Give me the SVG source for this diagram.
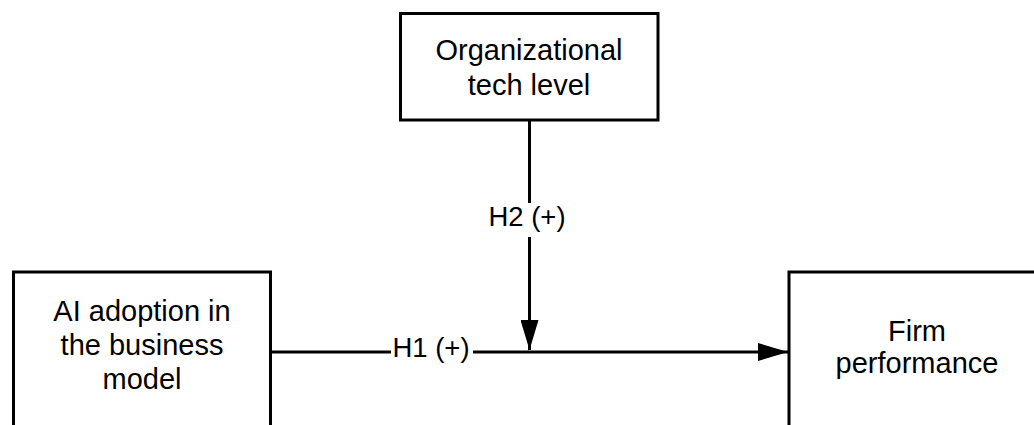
<svg xmlns="http://www.w3.org/2000/svg" width="1034" height="425" viewBox="0 0 1034 425">
<style>
.box{fill:#fff;stroke:#000;stroke-width:3}
.t{font-family:"Liberation Sans",Arial,sans-serif;font-size:29px;fill:#000;text-anchor:middle}
.lbl{font-family:"Liberation Sans",Arial,sans-serif;font-size:27.5px;fill:#000;text-anchor:middle}
.ln{stroke:#000;stroke-width:3;fill:none}
</style>
<defs>
<marker id="ah" viewBox="0 0 30 18" refX="30" refY="9" markerWidth="30" markerHeight="18" markerUnits="userSpaceOnUse" orient="auto">
<path d="M0,0 L30,9 L0,18 Z" fill="#000"/>
</marker>
</defs>
<rect width="1034" height="425" fill="#fff"/>
<g id="connectors">
<path class="ln" d="M270,352 H391"/>
<path class="ln" d="M473,352 H788" marker-end="url(#ah)"/>
<path class="ln" d="M529.5,120 V203"/>
<path class="ln" d="M529.5,237 V350" marker-end="url(#ah)"/>
<text class="lbl" x="527" y="226">H2 (+)</text>
<text class="lbl" x="431" y="357">H1 (+)</text>
</g>
<g id="org-tech">
<rect class="box" x="400.5" y="13.5" width="257.5" height="106.5"/>
<text class="t" x="529" y="60">Organizational</text>
<text class="t" x="529" y="95">tech level</text>
</g>
<g id="ai-adoption">
<rect class="box" x="13.5" y="272" width="257" height="170"/>
<text class="t" x="142" y="321">AI adoption in</text>
<text class="t" x="142" y="355">the business</text>
<text class="t" x="142" y="389">model</text>
</g>
<g id="firm-performance">
<rect class="box" x="789" y="272" width="257" height="170"/>
<text class="t" x="917" y="341">Firm</text>
<text class="t" x="917" y="373">performance</text>
</g>
</svg>
